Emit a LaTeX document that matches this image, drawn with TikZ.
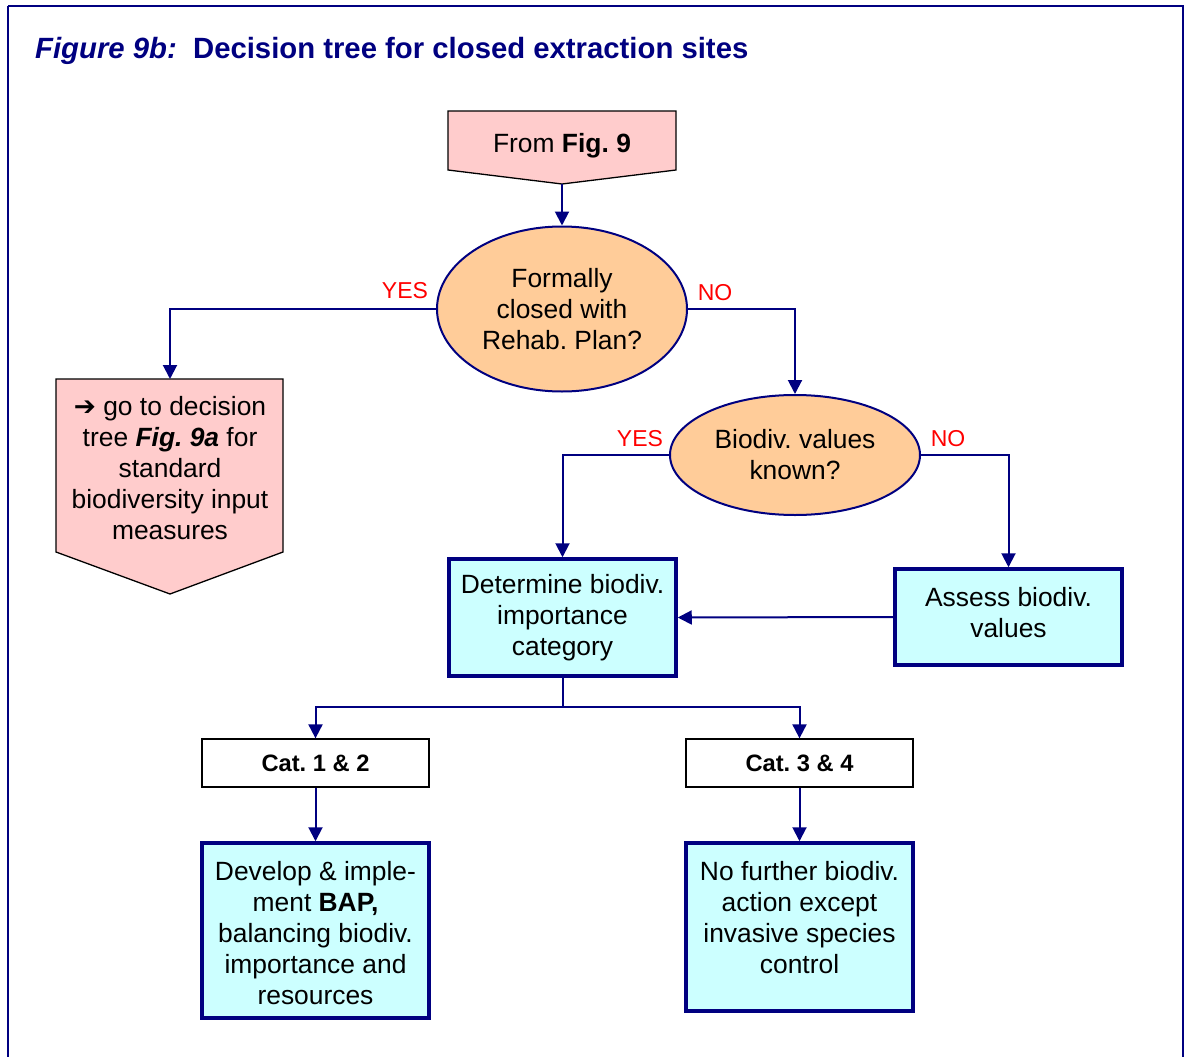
\documentclass[tikz,border=0pt]{standalone}
\usepackage{fontspec}
\setmainfont{Liberation Sans}
\newfontfamily\dejavu{DejaVu Sans}
\usetikzlibrary{arrows.meta,shapes.geometric}
\definecolor{navy}{RGB}{0,0,128}
\definecolor{pinkfill}{RGB}{255,204,204}
\definecolor{orangefill}{RGB}{255,204,153}
\definecolor{cyanfill}{RGB}{204,255,255}
\definecolor{labred}{RGB}{255,0,0}
\frenchspacing
\begin{document}
\begin{tikzpicture}[x=1pt,y=-1pt,
  body/.style={font=\fontsize{26.4}{31}\selectfont, align=center, inner sep=0pt, text=black},
  pinkshape/.style={draw=black, line width=1.3pt, fill=pinkfill, line join=miter},
  decision/.style={body, ellipse, draw=navy, line width=2pt, fill=orangefill},
  cbox/.style={body, rectangle, draw=navy, line width=3.5pt, fill=cyanfill, minimum width=227pt},
  catbox/.style={rectangle, draw=black, line width=1.3pt, fill=white, inner sep=0pt,
     minimum width=227pt, minimum height=48pt, font=\fontsize{23.7}{28}\selectfont\bfseries},
  yn/.style={font=\fontsize{23}{27}\selectfont, text=labred, inner sep=0pt},
  conn/.style={draw=navy, line width=2pt},
  arr/.style={conn, -{Triangle[width=14pt,length=14pt]}},
]
\useasboundingbox (0,0) rectangle (1184,1057);
% frame
\draw[navy, line width=2pt] (8,6) -- (1183,6) -- (1183,1080) (8,6) -- (8,1080);
% title
\node[anchor=west, inner sep=0pt, text=navy, font=\fontsize{29.3}{34}\selectfont\bfseries] (title) at (35,51)
  {\itshape Figure 9b:\upshape\ \ Decision tree for closed extraction sites};

% From Fig. 9 shape
\draw[pinkshape] (448,111) -- (676,111) -- (676,170) -- (562,184) -- (448,170) -- cycle;
\coordinate (fromtip) at (562,184);
\node[body] (from) at (562,146) {From \textbf{Fig. 9}};

% left pentagon
\draw[pinkshape] (56,379) -- (283,379) -- (283,552) -- (170,594) -- (56,552) -- cycle;
\coordinate (lefttop) at (170,379);
\node[body] (goto) at (170,468) {{\dejavu\bfseries ➔} go to decision\\tree \textbf{\itshape Fig. 9a} for\\standard\\biodiversity input\\measures};

% decisions
\node[decision, minimum width=250pt, minimum height=165pt] (e1) at (562,309) {Formally\\closed with\\Rehab. Plan?};
\node[decision, minimum width=250pt, minimum height=120pt] (e2) at (795,455) {Biodiv. values\\known?};

% boxes
\node[cbox, minimum height=117pt] (det) at (562.5,617.5) {Determine biodiv.\\importance\\category};
\node[cbox, minimum height=96pt] (ass) at (1008.5,617) {};
\node[body] (asst) at (1008.5,613) {Assess biodiv.\\values};
\node[catbox] (cat1) at (315.5,763) {Cat. 1 \& 2};
\node[catbox] (cat3) at (799.5,763) {Cat. 3 \& 4};
\node[cbox, minimum height=175pt] (dev) at (315.5,930.5) {};
\node[body] (devt) at (315.5,933) {Develop \& imple-\\ment \textbf{BAP,}\\balancing biodiv.\\importance and\\resources};
\node[cbox, minimum height=168pt] (nf) at (799.5,927) {};
\node[body] (nft) at (799.5,918) {No further biodiv.\\action except\\invasive species\\control};

% labels
\node[yn] (y1) at (405,291) {YES};
\node[yn] (n1) at (715,293) {NO};
\node[yn] (y2) at (640,439) {YES};
\node[yn] (n2) at (948,439) {NO};

% connectors
\draw[arr] (fromtip) -- (e1.north);
\draw[arr] (e1.west) -| (lefttop);
\draw[arr] (e1.east) -| (e2.north);
\draw[arr] (e2.west) -| (det.north);
\draw[arr] (e2.east) -| (ass.north);
\draw[arr] (ass.west) -- (det.east);
\coordinate (split) at (562.5,707);
\draw[conn] (det.south) -- (split);
\draw[arr] (split) -| (cat1.north);
\draw[arr] (split) -| (cat3.north);
\draw[arr] (cat1.south) -- (dev.north);
\draw[arr] (cat3.south) -- (nf.north);
\end{tikzpicture}
\end{document}
